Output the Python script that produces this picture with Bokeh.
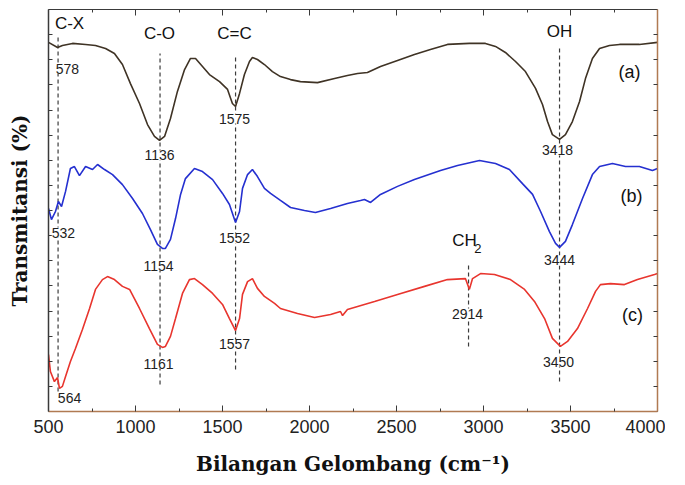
from bokeh.plotting import figure
from bokeh.models import Label, LinearAxis, FixedTicker, Range1d
from bokeh.embed import file_html
from bokeh.resources import INLINE

# ---- data (wavenumber cm^-1, transmittance in offset units) ----
a_x = [500, 552, 580, 638, 713, 770, 828, 879, 925, 971, 1023, 1069, 1109, 1138, 1167,
       1201, 1241, 1282, 1316, 1345, 1385, 1425, 1483, 1529, 1557, 1575, 1598, 1626, 1655,
       1672, 1701, 1741, 1787, 1833, 1891, 1948, 2046, 2144, 2218, 2276, 2333, 2408, 2506,
       2603, 2695, 2793, 2919, 3011, 3069, 3126, 3184, 3241, 3299, 3339, 3368, 3396, 3437,
       3471, 3511, 3552, 3586, 3626, 3667, 3724, 3782, 3896, 4000]
a_y = [14.69, 14.49, 14.57, 14.65, 14.61, 14.57, 14.45, 14.25, 13.81, 13.05, 12.26, 11.42,
       10.95, 10.79, 10.95, 11.66, 12.74, 13.61, 14.05, 14.05, 13.73, 13.41, 13.13, 12.82,
       12.26, 12.14, 12.66, 13.41, 13.93, 14.09, 14.01, 13.81, 13.53, 13.33, 13.21, 13.13,
       13.09, 13.25, 13.37, 13.45, 13.49, 13.73, 13.97, 14.21, 14.41, 14.61, 14.65, 14.65,
       14.53, 14.29, 13.93, 13.53, 12.86, 12.22, 11.54, 11.02, 10.83, 11.02, 11.54, 12.34,
       13.25, 14.05, 14.45, 14.57, 14.61, 14.61, 14.69]

b_x = [500, 517, 540, 557, 575, 598, 626, 649, 678, 713, 753, 782, 822, 868, 925, 983, 1040,
       1086, 1126, 1155, 1172, 1201, 1230, 1259, 1287, 1339, 1385, 1443, 1500, 1540, 1569,
       1575, 1598, 1615, 1644, 1672, 1701, 1741, 1776, 1833, 1891, 1971, 2034, 2121, 2218,
       2293, 2316, 2351, 2408, 2506, 2603, 2753, 2851, 2977, 3069, 3149, 3224, 3282, 3328,
       3379, 3414, 3437, 3471, 3511, 3569, 3626, 3667, 3741, 3816, 3896, 3971, 4000]
b_y = [8.08, 7.64, 7.96, 8.36, 8.16, 8.76, 9.67, 9.75, 9.39, 9.75, 9.63, 9.83, 9.63, 9.43,
       9.03, 8.48, 7.88, 7.24, 6.65, 6.49, 6.49, 6.85, 7.68, 8.64, 9.27, 9.67, 9.55, 9.23,
       8.68, 8.24, 7.64, 7.52, 7.96, 8.88, 9.43, 9.63, 9.35, 8.88, 8.68, 8.40, 8.12, 8.00,
       7.92, 8.08, 8.28, 8.40, 8.44, 8.32, 8.64, 8.96, 9.23, 9.59, 9.79, 9.99, 9.87, 9.63,
       9.07, 8.64, 7.96, 7.16, 6.69, 6.53, 6.77, 7.44, 8.48, 9.43, 9.75, 9.87, 9.75, 9.75,
       9.59, 9.67]

c_x = [500, 511, 534, 552, 563, 580, 598, 626, 655, 695, 736, 770, 810, 839, 879, 925, 966,
       1023, 1080, 1126, 1155, 1172, 1201, 1230, 1270, 1310, 1339, 1385, 1443, 1500, 1540,
       1575, 1598, 1615, 1644, 1672, 1701, 1741, 1799, 1833, 1931, 2029, 2121, 2178, 2190,
       2218, 2374, 2506, 2661, 2793, 2896, 2919, 2937, 2983, 3063, 3155, 3236, 3293, 3351,
       3396, 3442, 3483, 3540, 3598, 3644, 3672, 3730, 3810, 3885, 3983, 4000]
c_y = [2.27, 1.59, 1.19, 1.35, 0.92, 1.00, 1.39, 1.99, 2.51, 3.26, 4.10, 4.86, 5.25, 5.37,
       5.25, 4.98, 4.86, 4.10, 3.30, 2.67, 2.55, 2.59, 2.99, 3.70, 4.70, 5.25, 5.29, 5.05,
       4.70, 4.26, 3.70, 3.22, 3.70, 4.66, 5.17, 5.29, 4.90, 4.58, 4.30, 4.10, 3.90, 3.74,
       3.86, 3.98, 3.82, 4.06, 4.38, 4.66, 4.98, 5.25, 5.29, 4.86, 5.29, 5.49, 5.45, 5.25,
       4.86, 4.38, 3.70, 2.91, 2.59, 2.79, 3.30, 4.10, 4.78, 5.05, 5.09, 5.05, 5.25, 5.45, 5.49]

# dashed band markers
mark_x = [555, 1141, 1575, 3437, 2914]
mark_top = [15.0, 14.25, 14.21, 14.45, 5.89]
mark_bottom = [0.8, 1.07, 1.67, 1.19, 2.59]

# group labels
group_text = ["C-X", "C-O", "C=C", "OH", "CH"]
group_x = [621, 1138, 1569, 3437, 2891]
group_y = [15.44, 15.04, 15.04, 15.12, 6.81]
sub_text = ["2"]
sub_x = [2968]
sub_y = [6.49]

# series labels
series_text = ["(a)", "(b)", "(c)"]
series_x = [3839, 3850, 3856]
series_y = [13.53, 8.56, 3.86]

# peak labels
peak_text = ["578", "1136", "1575", "3418", "532", "1154", "1552", "3444",
             "564", "1161", "1557", "2914", "3450"]
peak_x = [609, 1138, 1569, 3425, 586, 1132, 1569, 3437, 621, 1132, 1569, 2908, 3431]
peak_y = [13.65, 10.19, 11.66, 10.39, 7.12, 5.81, 6.89, 6.01, 0.52, 1.91, 2.67, 3.90, 1.99]

x_major = [500, 1000, 1500, 2000, 2500, 3000, 3500, 4000]
x_minor = [750, 1250, 1750, 2250, 2750, 3250, 3750]
y_ticks = list(range(1, 16))

DARK = "#3a3a3a"
BROWN = "#b07a52"

p = figure(frame_width=609, frame_height=402, output_backend="svg", toolbar_location=None,
           x_range=Range1d(500, 4000), y_range=Range1d(0, 16),
           x_axis_location=None, y_axis_location=None,
           min_border_left=48, min_border_right=8, min_border_top=9, min_border_bottom=62)
p.grid.visible = False
p.outline_line_color = None
p.background_fill_color = "white"
p.border_fill_color = "white"

def style_x(ax, labels):
    ax.ticker = FixedTicker(ticks=x_major, minor_ticks=x_minor)
    ax.major_tick_in = 6
    ax.major_tick_out = 0
    ax.minor_tick_in = 3
    ax.minor_tick_out = 0
    ax.major_tick_line_color = DARK
    ax.minor_tick_line_color = DARK
    if labels:
        ax.major_label_text_font = "Liberation Sans"
        ax.major_label_text_font_size = "18px"
        ax.major_label_text_color = "#222222"
        ax.major_label_standoff = 8
    else:
        ax.major_label_text_font_size = "1px"
        ax.major_label_text_color = None
        ax.major_label_standoff = 0

def style_y(ax):
    ax.ticker = FixedTicker(ticks=y_ticks)
    ax.major_tick_in = 4
    ax.major_tick_out = 0
    ax.minor_tick_in = 0
    ax.minor_tick_out = 0
    ax.major_tick_line_color = DARK
    ax.major_label_text_font_size = "1px"
    ax.major_label_text_color = None
    ax.major_label_standoff = 0

bottom = LinearAxis(axis_line_color=BROWN, axis_line_width=1.5)
style_x(bottom, True)
bottom.axis_label = "Bilangan Gelombang (cm\u207b\u00b9)"
bottom.axis_label_text_font = "DejaVu Serif"
bottom.axis_label_text_font_style = "bold"
bottom.axis_label_text_font_size = "20px"
bottom.axis_label_text_color = "#111111"
bottom.axis_label_standoff = 16
p.add_layout(bottom, "below")

top = LinearAxis(axis_line_color=DARK, axis_line_width=1.2)
style_x(top, False)
p.add_layout(top, "above")

left = LinearAxis(axis_line_color=DARK, axis_line_width=1.5)
style_y(left)
left.axis_label = "Transmitansi (%)"
left.axis_label_text_font = "DejaVu Serif"
left.axis_label_text_font_style = "bold"
left.axis_label_text_font_size = "20px"
left.axis_label_text_color = "#111111"
left.axis_label_standoff = 17
p.add_layout(left, "left")

right = LinearAxis(axis_line_color=BROWN, axis_line_width=1.5)
style_y(right)
p.add_layout(right, "right")

# dashed markers
p.segment(x0=mark_x, y0=mark_bottom, x1=mark_x, y1=mark_top,
          line_color="#3c3c3c", line_width=1.2, line_dash="4 3")

# spectra
p.line(a_x, a_y, line_color="#3f3325", line_width=1.6)
p.line(b_x, b_y, line_color="#2530d0", line_width=1.6)
p.line(c_x, c_y, line_color="#e8352e", line_width=1.6)

for t, x, y in zip(peak_text, peak_x, peak_y):
    p.add_layout(Label(x=x, y=y, text=t, text_align="center", text_baseline="middle",
                       text_font="Liberation Sans", text_font_size="14px",
                       text_color="#222222", background_fill_color="white"))
for t, x, y in zip(group_text, group_x, group_y):
    p.add_layout(Label(x=x, y=y, text=t, text_align="center", text_baseline="middle",
                       text_font="Liberation Sans", text_font_size="17px",
                       text_color="#111111", background_fill_color="white"))
for t, x, y in zip(sub_text, sub_x, sub_y):
    p.add_layout(Label(x=x, y=y, text=t, text_align="center", text_baseline="middle",
                       text_font="Liberation Sans", text_font_size="13px",
                       text_color="#111111"))
for t, x, y in zip(series_text, series_x, series_y):
    p.add_layout(Label(x=x, y=y, text=t, text_align="center", text_baseline="middle",
                       text_font="Liberation Sans", text_font_size="18px",
                       text_color="#111111"))

open("out.html", "w").write(file_html(p, INLINE))
